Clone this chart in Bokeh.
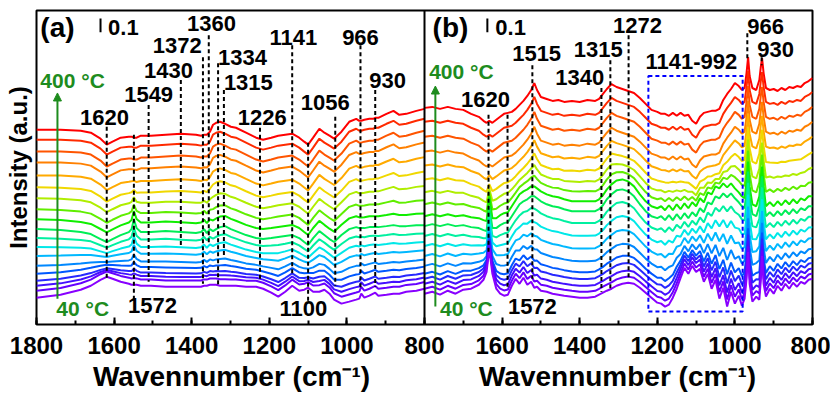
import numpy as np
from bokeh.plotting import figure
from bokeh.models import Range1d, FixedTicker, ColumnDataSource, Arrow, NormalHead, Span
from bokeh.core.properties import value
from bokeh.embed import file_html
from bokeh.resources import INLINE

# ---------------- data ----------------
temps = [400, 380, 360, 340, 320, 300, 280, 260, 240, 220, 200, 180, 160, 140, 120, 100, 80, 60, 40]
colors = ["#ff0000", "#ff2a00", "#ff5500", "#ff8000", "#ffaa00", "#f0d800", "#b0ee00", "#60ee00",
          "#10ee00", "#00ee55", "#00f0a0", "#00e8e8", "#00b8ff", "#0088ff", "#0058ff", "#2828ff",
          "#4410ff", "#6600ff", "#8800ff"]

# panel (a): wavenumbers and three read profiles (high-T, mid-T, low-T shapes)
wn_a = [1800, 1738, 1686, 1660, 1635, 1619, 1604, 1583, 1562, 1555,
        1549, 1542, 1531, 1505, 1467, 1428, 1389, 1376, 1368, 1361,
        1353, 1345, 1337, 1327, 1314, 1299, 1286, 1260, 1234, 1216,
        1195, 1177, 1159, 1141, 1123, 1110, 1100, 1087, 1071, 1058,
        1045, 1033, 1014, 994, 976, 968, 963, 955, 942, 932,
        927, 919, 898, 880, 865, 847, 821, 800]
top_a = [0, 0, -1, -3, -9, -15, -12, -8, -7, -7,
         -8, -8, -6, -6, -5, -4, -5, -6, -5, -5,
         -2, 5, 7, 8, 6, 3, 2, -3, -8, -10,
         -8, -6, -5, -4, -8, -12, -15, -8, 1, -3,
         -6, -9, -2, 8, 11, 9, 9, 10, 11, 11,
         12, 12, 16, 19, 15, 16, 19, 21]
mid_a = [0, -1, -3, -5, -10, -13, -10, -6, -3, 0,
         10, 1, -3, -3, -2, -3, -4, -3, 0, -4,
         0, -2, 0, 2, 3, 0, -2, -6, -9, -10,
         -9, -8, -7, -6, -9, -13, -16, -9, -2, -6,
         -10, -13, -6, 0, 2, 1, 1, 1, 2, 2,
         2, 2, 3, 4, 3, 3, 4, 4]
bot_a = [0, 3, 8, 12, 18, 21, 19, 16, 14, 13,
         13, 13, 12, 12, 11, 11, 11, 11, 12, 12,
         13, 13, 13, 12, 12, 12, 12, 11, 11, 9,
         5, 1, 6, 12, 7, 8, 10, 6, 6, 8,
         4, -2, -6, -4, -2, -1, 4, 0, 2, 4,
         5, 2, 3, 4, 4, 6, 7, 9]
offset_a = [196, 186, 174, 163, 150, 138, 127, 116, 106, 96, 87, 78, 69, 59, 51, 44, 39, 34, 27]
w_top_a = [1, 1, 1, .95, .85, .7, .5, .3, .1, 0, 0, 0, 0, 0, 0, 0, 0, 0, 0]
w_mid_a = [0, 0, 0, .05, .15, .3, .5, .7, .9, 1, .9, .8, .65, .5, .35, .25, .15, .05, 0]
w_bot_a = [0, 0, 0, 0, 0, 0, 0, 0, 0, 0, .1, .2, .35, .5, .65, .75, .85, .95, 1]

# panel (b)
wn_b = [1800, 1780, 1760, 1740, 1720, 1700, 1680, 1660, 1648, 1640,
        1633, 1625, 1615, 1605, 1595, 1585, 1575, 1565, 1555, 1545,
        1535, 1525, 1517, 1510, 1500, 1485, 1470, 1455, 1440, 1420,
        1400, 1380, 1360, 1350, 1340, 1330, 1318, 1305, 1290, 1275,
        1260, 1245, 1230, 1215, 1200, 1190, 1180, 1170, 1160, 1150,
        1140, 1130, 1120, 1110, 1100, 1090, 1080, 1070, 1060, 1050,
        1040, 1030, 1020, 1010, 1000, 990, 982, 975, 970, 966,
        962, 955, 945, 937, 933, 930, 926, 920, 910, 900,
        890, 880, 870, 860, 850, 840, 830, 820, 810, 800]
top_b = [0, 1, -1, 1, -1, -2, -6, -9, -13, -15,
         -13, -15, -12, -9, -6, -5, -4, -1, 3, 7,
         12, 18, 25, 18, 11, 9, 7, 8, 6, 7,
         6, 8, 7, 9, 14, 19, 24, 21, 19, 17,
         15, 10, 4, -2, -4, -6, -6, -8, -5, -8,
         -5, -8, -7, -13, -16, -9, -5, -4, -3, -3,
         -1, 8, 14, 19, 25, 22, 18, 20, 35, 51,
         32, 20, 18, 28, 42, 50, 35, 20, 18, 19,
         17, 20, 18, 21, 20, 22, 21, 25, 27, 30]
mid_b = [0, 2, 0, 2, 0, 1, -1, -2, -4, -5,
         20, -2, -2, 1, 3, 4, 10, 16, 22, 25,
         27, 30, 30, 28, 25, 22, 20, 19, 17, 15,
         15, 15, 15, 17, 21, 27, 32, 36, 37, 35,
         30, 22, 15, 10, 8, 10, 6, 11, 6, 12,
         7, 13, 8, 14, 10, 18, 14, 24, 22, 30,
         28, 33, 29, 33, 28, 24, 20, 18, 35, 55,
         30, 12, 10, 20, 40, 50, 30, 10, 14, 10,
         15, 11, 16, 12, 17, 13, 18, 16, 20, 20]
bot_b = [0, 2, -1, 3, 0, 4, 5, 9, 14, 22,
         45, 20, 5, 0, -2, -1, 8, 15, 10, 16,
         9, 12, 6, 7, 3, 2, 0, -1, -2, -3,
         -4, -4, -3, -1, 1, 3, 5, 8, 10, 11,
         10, 6, 1, -4, -9, -10, -13, -11, -4, 5,
         16, 26, 20, 28, 22, 25, 12, 20, 5, 14,
         -5, 6, -13, 2, -10, -2, -12, -5, 15, 42,
         10, -8, -3, -6, 15, 38, 10, -3, 5, 0,
         8, 3, 10, 5, 11, 7, 12, 10, 14, 15]
offset_b = [218, 204, 189, 174, 160, 146, 133, 121, 109, 99, 89, 79, 69, 59, 51, 46, 41, 36, 31]
w_top_b = [1, 1, 1, 1, .9, .75, .5, .25, 0, 0, 0, 0, 0, 0, 0, 0, 0, 0, 0]
w_mid_b = [0, 0, 0, 0, .1, .25, .5, .75, 1, 1, .9, .75, .6, .45, .3, .2, .1, .05, 0]
w_bot_b = [0, 0, 0, 0, 0, 0, 0, 0, 0, 0, .1, .25, .4, .55, .7, .8, .9, .95, 1]

# peak marks
peaks_a_top = ["1620", "1549", "1430", "1372", "1360", "1334", "1315", "1226", "1141", "1056", "966", "930"]
peaks_a_bottom = ["1572", "1100"]
peaks_b_top = ["1620", "1515", "1340", "1315", "1272", "1141-992", "966", "930"]
peaks_b_bottom = ["1572"]


def build(wn, top, mid, bot, off, wt, wm, wb):
    top, mid, bot = np.array(top, float), np.array(mid, float), np.array(bot, float)
    xs, ys = [], []
    for i in range(len(off)):
        xs.append(list(wn))
        ys.append(list(off[i] + wt[i] * top + wm[i] * mid + wb[i] * bot))
    return xs, ys


xs_a, ys_a = build(wn_a, top_a, mid_a, bot_a, offset_a, w_top_a, w_mid_a, w_bot_a)
xs_b, ys_b = build(wn_b, top_b, mid_b, bot_b, offset_b, w_top_b, w_mid_b, w_bot_b)

# ---------------- figure ----------------
FONT = value("Liberation Sans")
GREEN = "#1e8c1e"

p = figure(width=830, height=394, x_range=Range1d(1800, -200), y_range=Range1d(0, 316),
           output_backend="svg", toolbar_location=None,
           min_border_left=36, min_border_right=18, min_border_top=10, min_border_bottom=68)
p.extra_x_ranges = {"b": Range1d(2800, 800)}
p.xgrid.visible = False
p.ygrid.visible = False
p.outline_line_color = "black"
p.outline_line_width = 2
p.background_fill_color = "white"

# y axis: only the title
ay = p.yaxis[0]
ay.ticker = FixedTicker(ticks=[])
ay.axis_line_color = None
ay.major_tick_out = 0
ay.major_tick_in = 0
ay.minor_tick_out = 0
ay.minor_tick_in = 0
ay.major_label_standoff = 0
ay.axis_label = "Intensity (a.u.)"
ay.axis_label_standoff = 5
ay.axis_label_text_font = "Liberation Sans"
ay.axis_label_text_font_style = "bold"
ay.axis_label_text_font_size = "24px"
ay.axis_label_text_color = "black"

ax = p.xaxis[0]
ax.ticker = FixedTicker(ticks=list(range(-200, 1801, 200)), minor_ticks=list(range(-200, 1801, 100)))
ax.major_label_overrides = {600: "1600", 400: "1400", 200: "1200", 0: "1000", -200: "800"}
ax.axis_line_color = None
ax.major_tick_in = 7
ax.major_tick_out = 0
ax.minor_tick_in = 4
ax.minor_tick_out = 0
ax.major_tick_line_width = 2
ax.minor_tick_line_width = 2
ax.major_label_text_font = "Liberation Sans"
ax.major_label_text_font_style = "bold"
ax.major_label_text_font_size = "24px"
ax.major_label_text_color = "black"
ax.major_label_standoff = 12
xtitle = "Wavennumber (cm⁻¹)"
ax.axis_label = xtitle + "\u00a0" * 14 + xtitle
ax.axis_label_standoff = 4
ax.axis_label_text_font = "Liberation Sans"
ax.axis_label_text_font_style = "bold"
ax.axis_label_text_font_size = "28px"
ax.axis_label_text_color = "black"

p.add_layout(Span(location=800, dimension="height", line_color="black", line_width=2))

# curves
p.multi_line(xs=xs_a, ys=ys_a, line_color=colors, line_width=2)
p.multi_line(xs=xs_b, ys=ys_b, line_color=colors, line_width=2, x_range_name="b")

# dashed marker lines (panel a)
da = dict(x=[1619, 1549, 1511, 1428, 1371, 1356, 1332, 1317, 1224, 1141, 1100, 1030, 965, 927],
          y0=[199, 191, 221, 246, 269, 291, 263, 236, 198, 281, 183, 209, 281, 236],
          y1=[46, 23, 43, 79, 41, 81, 38, 69, 44, 49, 21, 39, 36, 38])
p.segment(x0="x", y0="y0", x1="x", y1="y1", source=ColumnDataSource(da),
          line_color="black", line_width=2, line_dash="4 3")
db = dict(x=[1635, 1586, 1522, 1344, 1321, 1274, 968, 931],
          y0=[211, 211, 261, 238, 266, 291, 293, 269],
          y1=[73, 36, 46, 33, 36, 46, 268, 261])
p.segment(x0="x", y0="y0", x1="x", y1="y1", source=ColumnDataSource(db),
          line_color="black", line_width=2, line_dash="4 3", x_range_name="b")

# blue dashed box
p.quad(left=[1223], right=[980], bottom=[13], top=[250], fill_color=None,
       line_color="#0000ff", line_width=2, line_dash="4 3", x_range_name="b")

# scale bars
p.segment(x0=[1635], y0=[294], x1=[1635], y1=[308], line_color="black", line_width=2)
p.segment(x0=[1638], y0=[294], x1=[1638], y1=[308], line_color="black", line_width=2, x_range_name="b")

# arrows
p.add_layout(Arrow(end=NormalHead(size=8, fill_color=GREEN, line_color=GREEN),
                   x_start=1746, y_start=26, x_end=1746, y_end=233, line_color=GREEN, line_width=2))
p.add_layout(Arrow(end=NormalHead(size=8, fill_color=GREEN, line_color=GREEN),
                   x_start=1772, y_start=18, x_end=1772, y_end=240, line_color=GREEN, line_width=2,
                   x_range_name="b"))

# text labels
ta = dict(text=peaks_a_top + peaks_a_bottom + ["0.1"],
          x=[1625, 1511, 1460, 1437, 1349, 1269, 1254, 1218, 1138, 1056, 965, 895, 1501, 1112, 1576],
          y=[208, 231, 256, 281, 303, 269, 244, 208, 289, 223, 289, 246, 19, 16, 299])
p.text(x="x", y="y", text="text", source=ColumnDataSource(ta), text_font=FONT, text_font_style="bold",
       text_font_size="22px", text_align="center", text_baseline="middle", text_color="black")
tb = dict(text=peaks_b_top + peaks_b_bottom + ["0.1"],
          x=[1643, 1511, 1400, 1352, 1251, 1112, 921, 895, 1522, 1578],
          y=[226, 273, 249, 277, 301, 265, 300, 277, 18, 299])
p.text(x="x", y="y", text="text", source=ColumnDataSource(tb), text_font=FONT, text_font_style="bold",
       text_font_size="22px", text_align="center", text_baseline="middle", text_color="black",
       x_range_name="b")

p.text(x=[1746], y=[299], text=["(a)"], text_font=FONT, text_font_style="bold", text_font_size="28px",
       text_align="center", text_baseline="middle", text_color="black")
p.text(x=[1733], y=[299], text=["(b)"], text_font=FONT, text_font_style="bold", text_font_size="28px",
       text_align="center", text_baseline="middle", text_color="black", x_range_name="b")

p.text(x=[1707, 1681], y=[246, 16], text=["%d °C" % temps[0], "%d °C" % temps[-1]], text_font=FONT,
       text_font_style="bold", text_font_size="21px", text_align="center", text_baseline="middle",
       text_color=GREEN)
p.text(x=[1705, 1692], y=[255, 16], text=["%d °C" % temps[0], "%d °C" % temps[-1]], text_font=FONT,
       text_font_style="bold", text_font_size="21px", text_align="center", text_baseline="middle",
       text_color=GREEN, x_range_name="b")

open("out.html", "w").write(file_html(p, INLINE))
